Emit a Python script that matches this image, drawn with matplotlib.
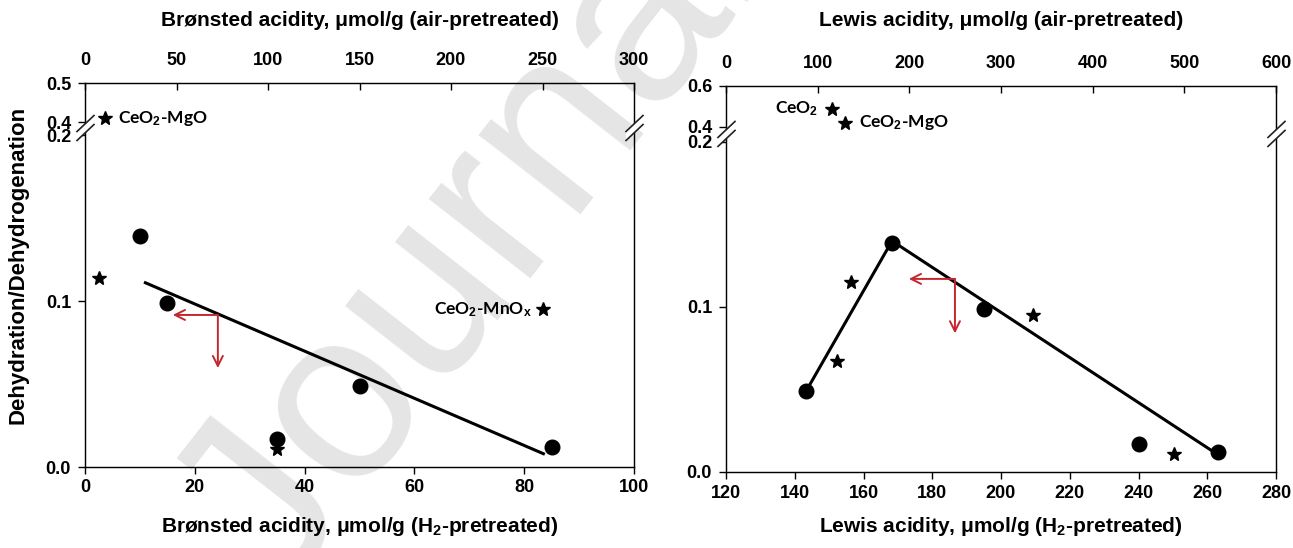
import numpy as np
import matplotlib
matplotlib.use("Agg")
import matplotlib.pyplot as plt
from matplotlib.lines import Line2D
from matplotlib.patches import Polygon

# ---------------- data ----------------
# Left panel: Brønsted acidity
bron_h2_x = [10, 15, 35, 50, 85]
bron_h2_y = [0.139, 0.099, 0.017, 0.049, 0.012]
bron_air_x = [11, 7.5, 105, 250]
bron_air_y = [0.41, 0.114, 0.011, 0.095]
bron_fit_x = [11, 83.5]
bron_fit_y = [0.111, 0.008]
bron_arrow = [24.2, 0.0916, 16.0, 0.0596]   # corner x, corner y, left end x, down end y

# Right panel: Lewis acidity
lewis_h2_x = [143.3, 168.3, 195.1, 240, 263]
lewis_h2_y = [0.049, 0.139, 0.099, 0.017, 0.012]
lewis_air_x = [115.6, 130, 136.4, 121, 335, 489]
lewis_air_y = [0.488, 0.42, 0.115, 0.067, 0.095, 0.011]
lewis_fit_x = [143.3, 168.3, 262]
lewis_fit_y = [0.049, 0.140, 0.012]
lewis_arrow = [186.6, 0.117, 173.2, 0.084]

left_yticks = [0.0, 0.1, 0.2, 0.4, 0.5]
right_yticks = [0.0, 0.1, 0.2, 0.4, 0.6]

plt.rcParams['font.family'] = ['Liberation Sans', 'DejaVu Sans']
plt.rcParams['mathtext.fontset'] = 'custom'
plt.rcParams['mathtext.rm'] = 'Liberation Sans:bold'
plt.rcParams['mathtext.default'] = 'rm'

RED = '#c4262e'

fig = plt.figure(figsize=(12.93, 5.48), dpi=100)
W, H = 1293, 548


def make_scale(gap, k):
    def fwd(y):
        y = np.asarray(y, dtype=float)
        return np.where(y <= 0.2, y,
                        np.where(y >= 0.4, 0.2 + gap + (y - 0.4) * k,
                                 0.2 + (y - 0.2) * gap / 0.2))

    def inv(t):
        t = np.asarray(t, dtype=float)
        return np.where(t <= 0.2, t,
                        np.where(t >= 0.2 + gap, 0.4 + (t - 0.2 - gap) / k,
                                 0.2 + (t - 0.2) * 0.2 / gap))
    return fwd, inv


def px_rect(x0, y0, x1, y1):
    return [x0 / W, 1 - y1 / H, (x1 - x0) / W, (y1 - y0) / H]


def setup(px, gap, k, ymax, yticks, xlim, xticks, topxlim, topxticks,
          xlabel, toplabel):
    ax = fig.add_axes(px_rect(*px))
    ax.patch.set_facecolor('none')
    ax.set_yscale('function', functions=make_scale(gap, k))
    ax.set_ylim(0, ymax)
    ax.set_yticks(yticks)
    ax.set_yticklabels([f"{v:.1f}" for v in yticks])
    ax.set_xlim(*xlim)
    ax.set_xticks(xticks)
    ax.set_xticklabels([f"{v:g}" for v in xticks])
    ax.tick_params(axis='both', direction='out', length=5, width=1,
                   labelsize=13, pad=4)
    ax.tick_params(axis='y', pad=5)
    for s in ax.spines.values():
        s.set_linewidth(1.0)
        s.set_color('#222222')
    ax2 = ax.twiny()
    ax2.patch.set_facecolor('none')
    ax2.set_xlim(*topxlim)
    ax2.set_xticks(topxticks)
    ax2.set_xticklabels([f"{v:g}" for v in topxticks])
    ax2.tick_params(axis='x', direction='in', length=5, width=1,
                    labelsize=13, pad=10)
    for a in (ax, ax2):
        for lbl in a.get_xticklabels() + a.get_yticklabels():
            lbl.set_fontweight('bold')
    xc = (px[0] + px[2]) / 2 / W
    fig.text(xc, 1 - 527 / H, xlabel, ha='center', va='center',
             fontsize=15, fontweight='bold')
    fig.text(xc, 1 - 20 / H, toplabel, ha='center', va='center',
             fontsize=15, fontweight='bold')
    return ax, ax2


def breaks(ax):
    inv = fig.transFigure.inverted()
    for xa in (0, 1):
        bx, by = ax.get_yaxis_transform().transform((xa, 0.3))
        s1 = [(-8, -3), (9, 13)]
        s2 = [(-8, -12), (9, 4)]
        poly = [s1[0], s1[1], s2[1], s2[0]]
        pts = inv.transform([(bx + dx, by + dy) for dx, dy in poly])
        fig.add_artist(Polygon(pts, closed=True, facecolor='white',
                               edgecolor='none', transform=fig.transFigure,
                               zorder=5))
        for s in (s1, s2):
            p = inv.transform([(bx + dx, by + dy) for dx, dy in s])
            fig.add_artist(Line2D(p[:, 0], p[:, 1], color='#222222', lw=1.2,
                                  transform=fig.transFigure, zorder=6))


# ---- watermark ----
fig.text(280 / W, 1 - 600 / H, 'Journal Pre-proof', rotation=52,
         rotation_mode='anchor', fontsize=175, color='#e5e5e5', ha='left',
         va='baseline', zorder=-1, family='Liberation Sans')

# ---------------- left panel ----------------
axL, axL2 = setup((85, 83, 634, 467), 0.00783, 0.235, 0.5, left_yticks,
                  (0, 100), [0, 20, 40, 60, 80, 100], (0, 300),
                  [0, 50, 100, 150, 200, 250, 300],
                  'Brønsted acidity, μmol/g (H$_2$-pretreated)',
                  'Brønsted acidity, μmol/g (air-pretreated)')
axL.plot(bron_fit_x, bron_fit_y, color='black', lw=2.2, zorder=3)
axL.plot(bron_h2_x, bron_h2_y, 'o', color='black', ms=10.5, zorder=4)
axL2.plot(bron_air_x, bron_air_y, '*', color='black', ms=10.5, zorder=4,
          clip_on=False)
cx, cy, lx, dy = bron_arrow
ap = dict(arrowstyle='->', color=RED, lw=1.4, mutation_scale=18,
          shrinkA=0, shrinkB=0)
axL.annotate('', xy=(lx, cy), xytext=(cx, cy), arrowprops=ap)
axL.annotate('', xy=(cx, dy), xytext=(cx, cy), arrowprops=ap)
axL2.annotate('CeO$_2$-MgO', xy=(bron_air_x[0], bron_air_y[0]),
              xytext=(9, 0), textcoords='offset points', va='center',
              ha='left', fontsize=12.5, family='Lato', fontweight='bold')
axL2.annotate('CeO$_2$-MnO$_x$', xy=(bron_air_x[3], bron_air_y[3]),
              xytext=(-8, 0), textcoords='offset points', va='center',
              ha='right', fontsize=12.5, family='Lato', fontweight='bold')
fig.text(18 / W, 1 - 265 / H, 'Dehydration/Dehydrogenation', rotation=90,
         ha='center', va='center', fontsize=16, fontweight='bold')

# ---------------- right panel ----------------
axR, axR2 = setup((726, 86, 1276, 472), 0.00909, 0.124, 0.6,
                  right_yticks, (120, 280),
                  [120, 140, 160, 180, 200, 220, 240, 260, 280], (0, 600),
                  [0, 100, 200, 300, 400, 500, 600],
                  'Lewis acidity, μmol/g (H$_2$-pretreated)',
                  'Lewis acidity, μmol/g (air-pretreated)')
axR.plot(lewis_fit_x, lewis_fit_y, color='black', lw=2.2, zorder=3)
axR.plot(lewis_h2_x, lewis_h2_y, 'o', color='black', ms=10.5, zorder=4)
axR2.plot(lewis_air_x, lewis_air_y, '*', color='black', ms=10.5, zorder=4,
          clip_on=False)
cx, cy, lx, dy = lewis_arrow
axR.annotate('', xy=(lx, cy), xytext=(cx, cy), arrowprops=ap)
axR.annotate('', xy=(cx, dy), xytext=(cx, cy), arrowprops=ap)
axR2.annotate('CeO$_2$', xy=(lewis_air_x[0], lewis_air_y[0]),
              xytext=(-10, 0), textcoords='offset points', va='center',
              ha='right', fontsize=12.5, family='Lato', fontweight='bold')
axR2.annotate('CeO$_2$-MgO', xy=(lewis_air_x[1], lewis_air_y[1]),
              xytext=(10, 0), textcoords='offset points', va='center',
              ha='left', fontsize=12.5, family='Lato', fontweight='bold')

breaks(axL)
breaks(axR)

fig.savefig('out.png', dpi=100)
